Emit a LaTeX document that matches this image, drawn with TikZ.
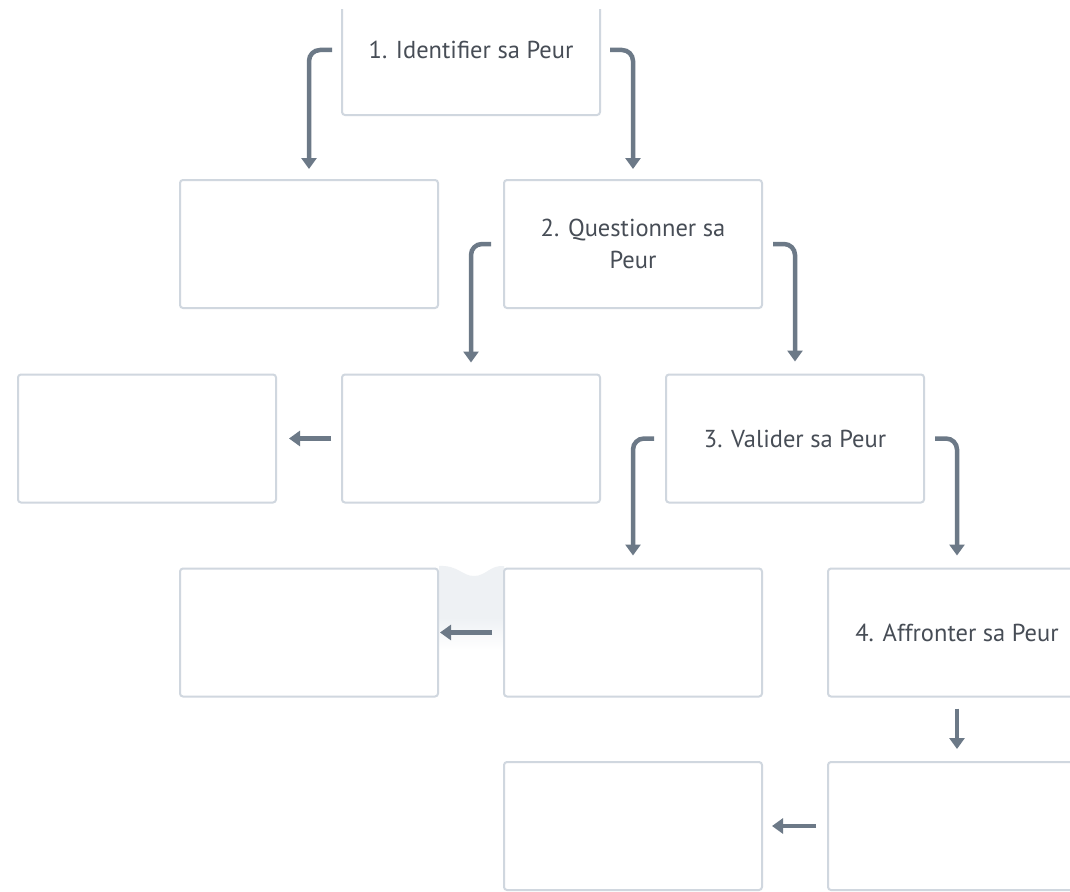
\documentclass[tikz,border=0pt]{standalone}
\usepackage{fontspec}
\setmainfont{PT Sans}
\usetikzlibrary{arrows.meta,calc}
\definecolor{boxline}{HTML}{D0D7DF}
\definecolor{arrowcol}{HTML}{6C7987}
\definecolor{labelcol}{HTML}{474D56}
\definecolor{shadecol}{HTML}{EEF1F4}
\tikzset{
  stage/.style={draw=boxline, line width=2pt, rounded corners=3pt, fill=white,
    minimum width=258pt, minimum height=128pt, inner sep=0pt, align=center,
    text=labelcol, font=\fontsize{24.5}{32}\selectfont},
  flow/.style={draw=arrowcol, line width=4.5pt, rounded corners=11pt,
    -{Triangle[width=15pt,length=11pt]}},
}
\begin{document}
\begin{tikzpicture}[x=1pt,y=-1pt]
\useasboundingbox (0,0) rectangle (1070,891);
\clip (0,0) rectangle (1070,891);
\fill[white] (0,0) rectangle (1070,891);

% shaded tab between the two boxes of the fourth row
\fill[shadecol] (439,566) .. controls (458,565) and (462,576) .. (474,576)
  .. controls (486,576) and (490,565) .. (504,566) -- (504,618) -- (439,618) -- cycle;
\shade[top color=shadecol, bottom color=white] (439,617.5) rectangle (504,650);

% stages
\node[stage, minimum height=130pt] (s1) at (471,50) {1. Identifier sa Peur};
\node[stage] (a)  at (309,244) {};
\node[stage] (s2) at (633,244) {2. Questionner sa\\Peur};
\node[stage] (c)  at (147,438.5) {};
\node[stage] (d)  at (471,438.5) {};
\node[stage] (s3) at (795,438.5) {3. Valider sa Peur};
\node[stage] (f)  at (309,632.5) {};
\node[stage] (g)  at (633,632.5) {};
\node[stage] (s4) at (957,632.5) {4. Affronter sa Peur};
\node[stage] (i)  at (633,826) {};
\node[stage] (j)  at (957,826) {};

% branching connectors
\draw[flow, shorten <=9pt, shorten >=10pt] (s1.west) -| (a.north);
\draw[flow, shorten <=9pt, shorten >=10pt] (s1.east) -| (s2.north);
\draw[flow, shorten <=12pt, shorten >=11pt] (s2.west) -| (d.north);
\draw[flow, shorten <=10pt, shorten >=12pt] (s2.east) -| (s3.north);
\draw[flow, shorten <=11pt, shorten >=12pt] (s3.west) -| (g.north);
\draw[flow, shorten <=10pt, shorten >=12pt] (s3.east) -| (s4.north);

% straight connectors
\draw[flow, shorten <=10pt, shorten >=12pt] (d.west) -- (c.east);
\draw[flow, shorten <=11pt, shorten >=1pt] (g.west) -- (f.east);
\draw[flow, shorten <=11pt, shorten >=12pt] (s4.south) -- (j.north);
\draw[flow, shorten <=11pt, shorten >=9pt] (j.west) -- (i.east);

% the first stage runs off the top edge
\fill[white] (300,0) rectangle (640,9);
\end{tikzpicture}
\end{document}
